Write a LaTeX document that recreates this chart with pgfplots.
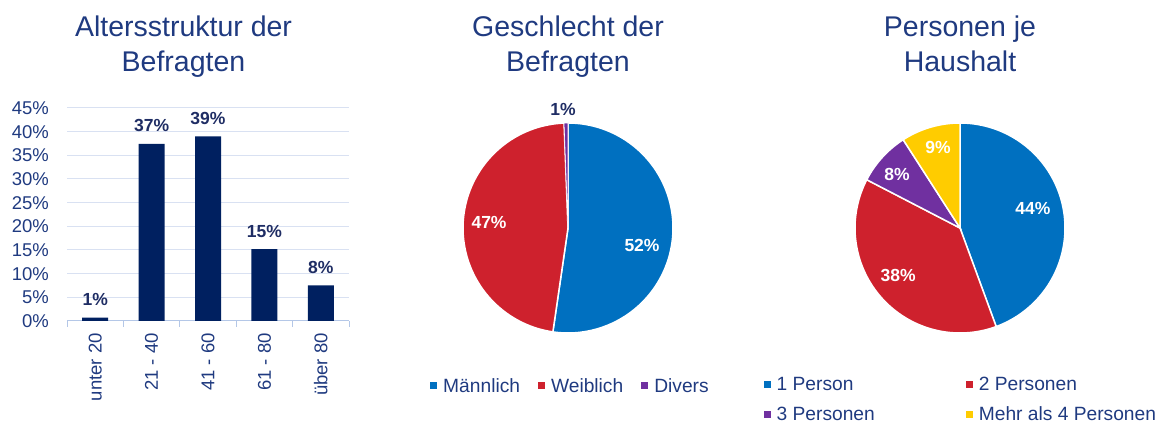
\documentclass[border=0pt]{standalone}
\usepackage{pgfplots}
\pgfplotsset{compat=1.18}
\usepackage{fontspec}
\setmainfont{Liberation Sans}
\definecolor{barnavy}{RGB}{0,32,96}
\definecolor{txtblue}{RGB}{31,58,128}
\definecolor{lblnavy}{RGB}{31,45,100}
\definecolor{gridblue}{RGB}{217,225,242}
\definecolor{axblue}{RGB}{180,199,231}
\definecolor{pblue}{RGB}{0,112,192}
\definecolor{pred}{RGB}{206,33,45}
\definecolor{ppurple}{RGB}{112,48,160}
\definecolor{pyellow}{RGB}{255,204,0}
\newcommand\fs{\fontsize{18.5}{22}\selectfont}
\newcommand\fl{\fontsize{19.2}{22}\selectfont}
\newcommand\ft{\fontsize{28.5}{33}\selectfont}
\newcommand\fb{\fontsize{17.5}{20}\selectfont\bfseries}
\begin{document}
\begin{tikzpicture}
\path[use as bounding box] (0,0) rectangle (1162pt,423pt);
% titles
\node[anchor=base, text=txtblue, font=\ft, inner sep=0pt] at (183.5pt,386pt) {Altersstruktur der};
\node[anchor=base, text=txtblue, font=\ft, inner sep=0pt] at (183.5pt,351pt) {Befragten};
\node[anchor=base, text=txtblue, font=\ft, inner sep=0pt] at (568pt,386pt) {Geschlecht der};
\node[anchor=base, text=txtblue, font=\ft, inner sep=0pt] at (568pt,351pt) {Befragten};
\node[anchor=base, text=txtblue, font=\ft, inner sep=0pt] at (960pt,386pt) {Personen je};
\node[anchor=base, text=txtblue, font=\ft, inner sep=0pt] at (960pt,351pt) {Haushalt};

% ---- bar chart ----
\begin{axis}[at={(67pt,102pt)}, anchor=south west, width=282pt, height=213pt, scale only axis,
  xmin=-0.5, xmax=4.5, ymin=0, ymax=45,
  ytick={0,5,...,45}, yticklabels={0\%,5\%,10\%,15\%,20\%,25\%,30\%,35\%,40\%,45\%},
  xtick={0,...,4}, xticklabels={unter 20,21 - 40,41 - 60,61 - 80,über 80},
  minor xtick={-0.5,0.5,...,4.5},
  ymajorgrids, grid style={gridblue, line width=1pt},
  axis x line*=bottom, axis y line*=left,
  x axis line style={axblue, line width=1pt}, y axis line style={draw=none},
  major tick length=0pt, minor tick length=6pt, tick align=outside,
  minor tick style={axblue, line width=1pt},
  tick label style={font=\fs, text=txtblue},
  xticklabel style={rotate=90, anchor=east, inner sep=0pt},
  xticklabel shift=12pt,
  yticklabel style={anchor=east, inner sep=0pt},
  yticklabel shift=18pt,
  clip=false]
\addplot[ybar, bar width=26pt, fill=barnavy, draw=none,
  nodes near coords, point meta=explicit symbolic,
  every node near coord/.append style={font=\fb, text=lblnavy, anchor=base, yshift=12pt}]
  coordinates {(0,0.7)[1\%] (1,37.4)[37\%] (2,39.0)[39\%] (3,15.2)[15\%] (4,7.5)[8\%]};
\end{axis}

% ---- gender pie ----
\begin{axis}[at={(568pt,195pt)}, anchor=center, width=210pt, height=210pt, scale only axis,
  xmin=-1, xmax=1, ymin=-1, ymax=1, hide axis, clip=false,
  legend columns=3, legend cell align=left,
  legend style={draw=none, fill=none, font=\fl, text=txtblue, inner sep=0pt,
    at={(-0.157,-0.252)}, anchor=west,
    /tikz/every odd column/.append style={column sep=4pt},
    /tikz/every even column/.append style={column sep=16pt}},
  legend image code/.code={\path[#1, draw=none] (0pt,-3.5pt) rectangle (7pt,3.5pt);}]
% values: Maennlich 52.3, Weiblich 47.1, Divers 0.6
\addplot[fill=pblue, draw=white, line width=1.5pt, domain={90-3.6*52.3}:{90}, samples=80]
  ({cos(x)},{sin(x)}) -- (0,0) -- cycle;
\addlegendentry{Männlich}
\addplot[fill=pred, draw=white, line width=1.5pt, domain={90-3.6*(52.3+47.1)}:{90-3.6*52.3}, samples=80]
  ({cos(x)},{sin(x)}) -- (0,0) -- cycle;
\addlegendentry{Weiblich}
\addplot[fill=ppurple, draw=white, line width=0.6pt, domain={90-3.6*(52.3+47.1+0.6)}:{90-3.6*(52.3+47.1)}, samples=5]
  ({cos(x)},{sin(x)}) -- (0,0) -- cycle;
\addlegendentry{Divers}
\node[font=\fb, text=white] at (0.705,-0.162) {52\%};
\node[font=\fb, text=white] at (-0.752,0.057) {47\%};
\node[font=\fb, text=lblnavy] at (-0.048,1.124) {1\%};
\end{axis}

% ---- household pie ----
\begin{axis}[at={(960pt,195pt)}, anchor=center, width=210pt, height=210pt, scale only axis,
  xmin=-1, xmax=1, ymin=-1, ymax=1, hide axis, clip=false,
  legend columns=2, legend cell align=left,
  legend style={draw=none, fill=none, font=\fl, text=txtblue, inner sep=0pt,
    at={(-0.436,-0.318)}, anchor=west, row sep=11pt,
    /tikz/every odd column/.append style={column sep=4pt},
    /tikz/every even column/.append style={column sep=89pt}},
  legend image code/.code={\path[#1, draw=none] (0pt,-3.5pt) rectangle (7pt,3.5pt);}]
% values: 1 Person 44.4, 2 Personen 38.2, 3 Personen 8.3, Mehr als 4 Personen 9.1
\addplot[fill=pblue, draw=white, line width=1.5pt, domain={90-3.6*44.4}:{90}, samples=80]
  ({cos(x)},{sin(x)}) -- (0,0) -- cycle;
\addlegendentry{1 Person}
\addplot[fill=pred, draw=white, line width=1.5pt, domain={90-3.6*(44.4+38.2)}:{90-3.6*44.4}, samples=80]
  ({cos(x)},{sin(x)}) -- (0,0) -- cycle;
\addlegendentry{2 Personen}
\addplot[fill=ppurple, draw=white, line width=1.5pt, domain={90-3.6*(44.4+38.2+8.3)}:{90-3.6*(44.4+38.2)}, samples=30]
  ({cos(x)},{sin(x)}) -- (0,0) -- cycle;
\addlegendentry{3 Personen}
\addplot[fill=pyellow, draw=white, line width=1.5pt, domain={90-3.6*(44.4+38.2+8.3+9.1)}:{90-3.6*(44.4+38.2+8.3)}, samples=30]
  ({cos(x)},{sin(x)}) -- (0,0) -- cycle;
\addlegendentry{Mehr als 4 Personen}
\node[font=\fb, text=white] at (0.695,0.19) {44\%};
\node[font=\fb, text=white] at (-0.59,-0.457) {38\%};
\node[font=\fb, text=white] at (-0.6,0.514) {8\%};
\node[font=\fb, text=white] at (-0.21,0.771) {9\%};
\end{axis}
\end{tikzpicture}
\end{document}
